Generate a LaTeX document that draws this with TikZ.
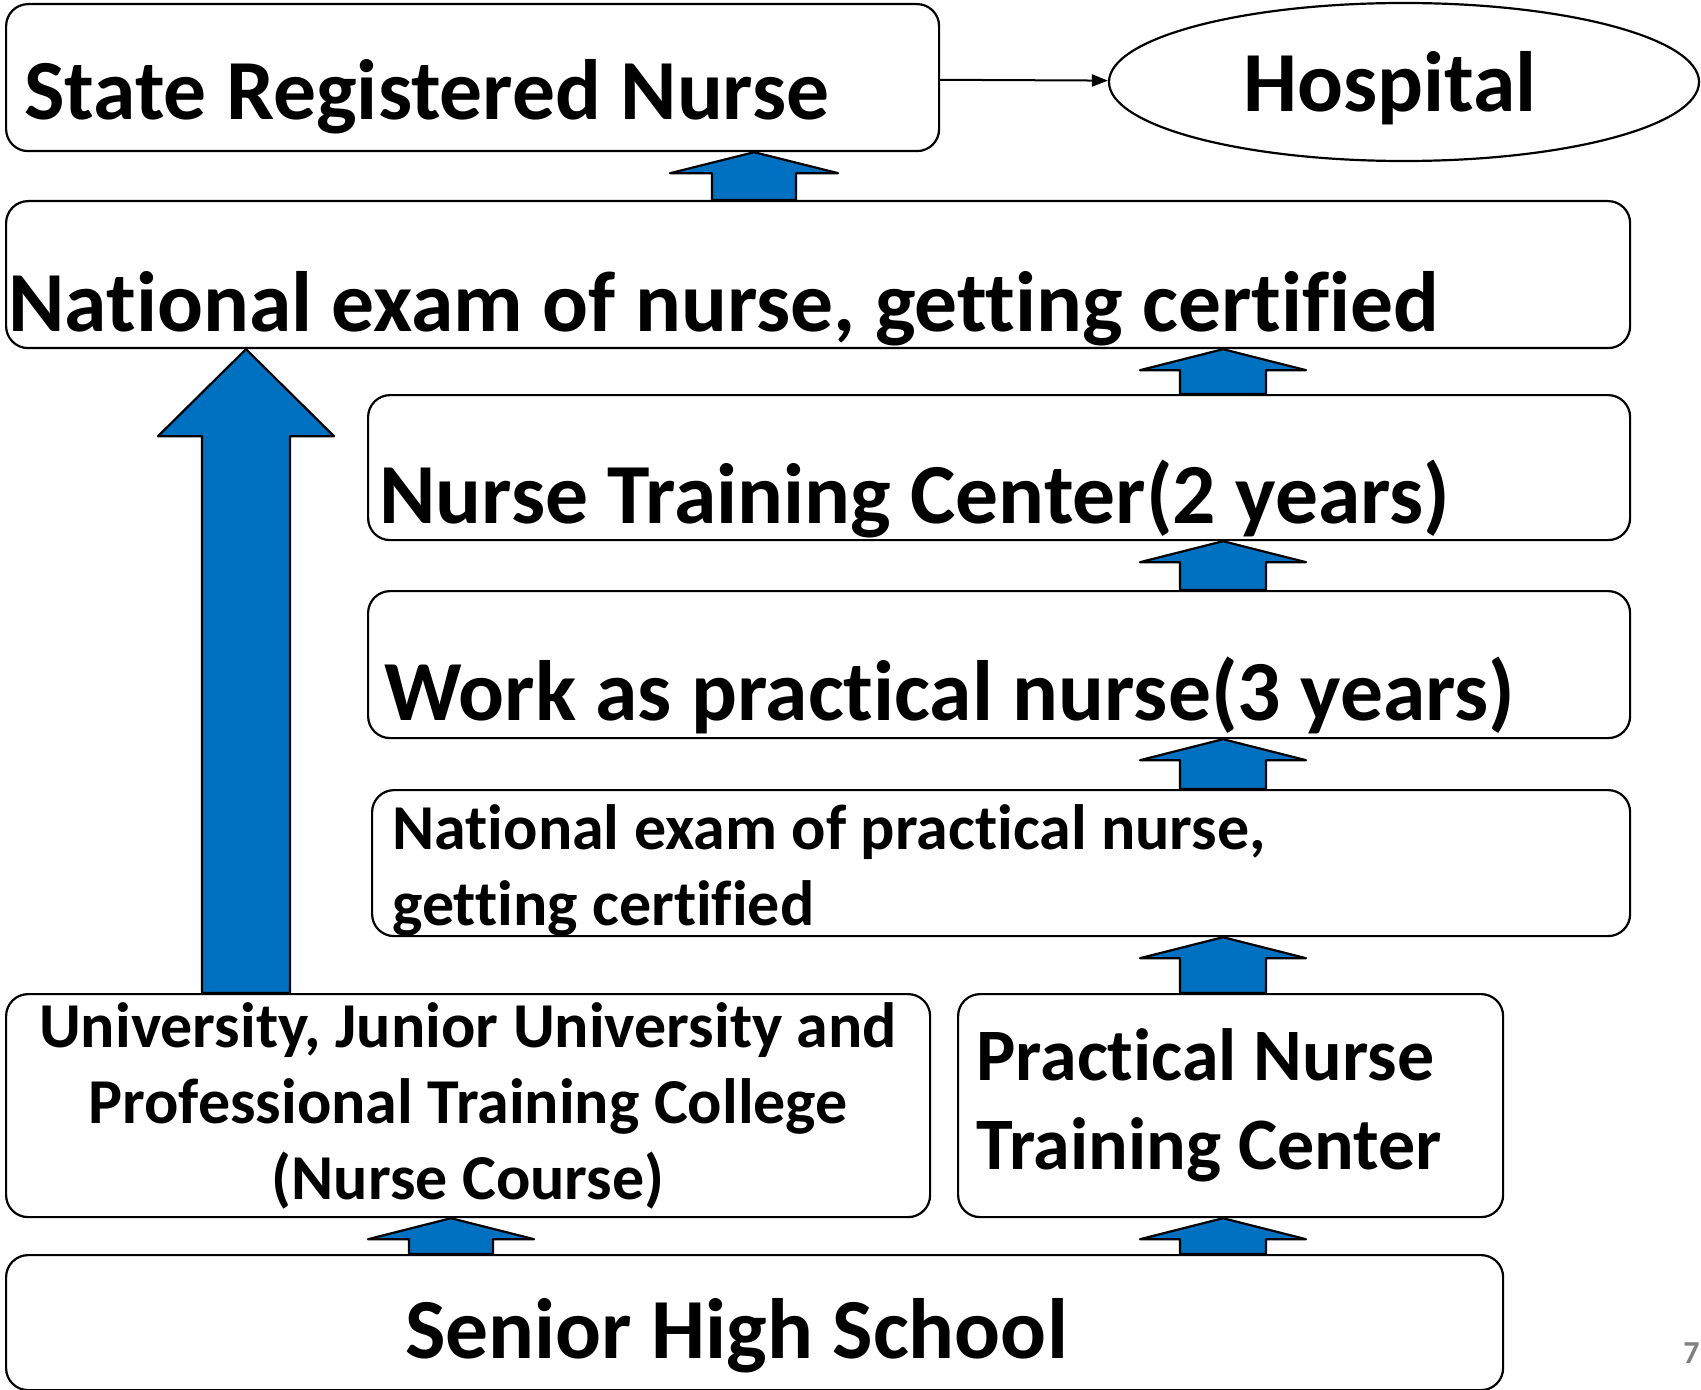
\documentclass[tikz,border=0pt]{standalone}
\usepackage{fontspec}
\setmainfont{Carlito}[Ligatures=NoCommon]
\usetikzlibrary{shapes.geometric,calc,arrows.meta}
\definecolor{arrowblue}{RGB}{0,112,192}

% block arrow: lower node, upper node, column x, shaft half, head half, head height
\newcommand{\blockup}[6]{%
  \coordinate (col) at (#3,0);
  \filldraw[blockarrow] ($(col |- #1.north)+(-#4,0)$) -- ($(col |- #2.south)+(-#4,#6)$)
    -- ($(col |- #2.south)+(-#5,#6)$) -- (col |- #2.south) -- ($(col |- #2.south)+(#5,#6)$)
    -- ($(col |- #2.south)+(#4,#6)$) -- ($(col |- #1.north)+(#4,0)$) -- cycle;}

\begin{document}
\begin{tikzpicture}[x=0.5pt,y=-0.5pt,
  box/.style={draw, line width=1.1pt, rounded corners=11pt, anchor=north west, inner sep=0pt},
  big/.style={font=\fontsize{42.8}{51}\selectfont\bfseries, inner sep=0pt},
  mid/.style={font=\fontsize{32}{38}\selectfont\bfseries, inner sep=0pt},
  blockarrow/.style={fill=arrowblue, draw=black, line width=1.1pt, line join=round}]
\useasboundingbox (0,0) rectangle (1701,1390);
% boxes
\node[box, minimum width=466.5pt, minimum height=73.5pt] (srn) at (5,3) {};
\node[box, minimum width=812pt, minimum height=73.5pt] (nat) at (5,200) {};
\node[box, minimum width=631pt, minimum height=72.5pt] (ntc) at (367,394) {};
\node[box, minimum width=631pt, minimum height=73.5pt] (work) at (367,590) {};
\node[box, minimum width=629pt, minimum height=73pt] (nepn) at (371,789) {};
\node[box, minimum width=462pt, minimum height=111.5pt] (univ) at (5,993) {};
\node[box, minimum width=272.5pt, minimum height=111.5pt] (pntc) at (957,993) {};
\node[box, minimum width=748.5pt, minimum height=67.5pt] (shs) at (5,1254) {};
\node[draw, ellipse, line width=1.1pt, minimum width=295pt, minimum height=79pt] (hosp) at (1404,82) {};
% labels
\node[big, anchor=base west] (srntext) at ($(srn.south west)+(19,-33)$) {State Registered Nurse};
\node[big, anchor=base] (hosptext) at ($(hosp.center)+(-14,30)$) {Hospital};
\node[big, anchor=base west] (nattext) at ($(nat.south west)+(3,-18)$) {National exam of nurse, getting certified};
\node[big, anchor=base west] (ntctext) at ($(ntc.south west)+(12,-18)$) {Nurse Training Center(2 years)};
\node[big, anchor=base west] (worktext) at ($(work.south west)+(17,-19)$) {Work as practical nurse(3 years)};
\node[mid, anchor=west, align=left] (nepntext) at ($(nepn.west)+(21,7)$) {National exam of practical nurse,\\getting certified};
\node[mid, align=center] (univtext) at (univ.center) {University, Junior University and\\Professional Training College\\(Nurse Course)};
\node[mid, anchor=west, align=left, font=\fontsize{37}{44.5}\selectfont\bfseries] (pntctext) at ($(pntc.west)+(19,0)$) {Practical Nurse\\Training Center};
\node[big, anchor=base] (shstext) at ($(shs.south)+(-18,-33)$) {Senior High School};
\node[anchor=base west, text=gray, font=\fontsize{16}{18}\selectfont\bfseries, inner sep=0pt] (page) at (1683,1363) {7};
% arrows
\draw[-{Triangle[length=8pt,width=6pt]}, line width=1pt] (srn) -- (hosp);
\blockup{nat}{srn}{754}{42}{84}{21}
\blockup{ntc}{nat}{1223}{43}{83}{21}
\blockup{work}{ntc}{1223}{43}{83}{21}
\blockup{nepn}{work}{1223}{43}{83}{21}
\blockup{pntc}{nepn}{1223}{43}{83}{21}
\blockup{shs}{pntc}{1223}{43}{83}{21}
\blockup{shs}{univ}{451}{42}{83}{21}
\blockup{univ}{nat}{246}{44}{88}{87}
\end{tikzpicture}
\end{document}
